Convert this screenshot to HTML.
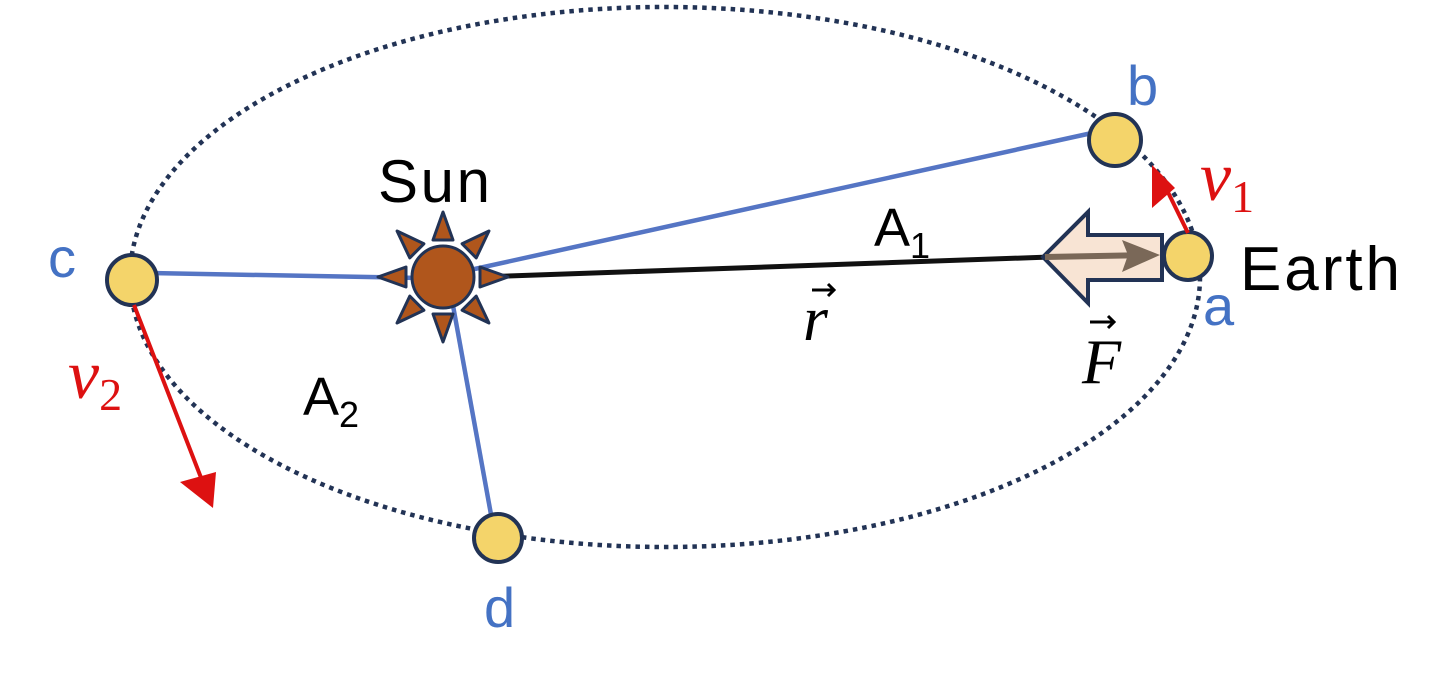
<!DOCTYPE html>
<html><head><style>
body{margin:0;background:#fff;width:1450px;height:695px;overflow:hidden}
</style></head><body>
<svg width="1450" height="695" viewBox="0 0 1450 695" xmlns="http://www.w3.org/2000/svg">
<ellipse cx="665" cy="277" rx="535" ry="270" fill="none" stroke="#223355" stroke-width="4.5" stroke-dasharray="4.5 5"/>
<g stroke="#5575c4" stroke-width="4.5">
<line x1="470" y1="270" x2="1092" y2="133"/>
<line x1="150" y1="273" x2="420" y2="278"/>
<line x1="452" y1="300" x2="492" y2="520"/>
</g>
<line x1="480" y1="277" x2="1050" y2="257" stroke="#111" stroke-width="5"/>
<g fill="#b0561c" stroke="#223355" stroke-width="3" stroke-linejoin="round">
<g id="ray"><polygon points="443,212 433,240 453,240"/></g>
<use href="#ray" transform="rotate(45 443 277)"/>
<use href="#ray" transform="rotate(90 443 277)"/>
<use href="#ray" transform="rotate(135 443 277)"/>
<use href="#ray" transform="rotate(180 443 277)"/>
<use href="#ray" transform="rotate(225 443 277)"/>
<use href="#ray" transform="rotate(270 443 277)"/>
<use href="#ray" transform="rotate(315 443 277)"/>
<circle cx="443" cy="277" r="31"/>
</g>
<polygon points="1043,257 1088,212 1088,235 1162,235 1162,280 1088,280 1088,303" fill="#f8e4d4" stroke="#223355" stroke-width="4"/>
<line x1="1045" y1="257" x2="1150" y2="255" stroke="#7a6858" stroke-width="6"/>
<polygon points="1160,255 1122,240 1128,255 1122,272" fill="#7a6858"/>
<g fill="#f4d46a" stroke="#223355" stroke-width="4">
<circle cx="1115" cy="140" r="26"/>
<circle cx="1188" cy="256" r="24"/>
<circle cx="132" cy="280" r="25"/>
<circle cx="498" cy="538" r="24"/>
</g>
<line x1="1188" y1="233" x2="1162" y2="180" stroke="#dd1111" stroke-width="4"/>
<polygon points="1152,165 1152,208 1175,188" fill="#dd1111"/>
<line x1="134" y1="305" x2="205" y2="488" stroke="#dd1111" stroke-width="4"/>
<polygon points="213,508 180,482 216,472" fill="#dd1111"/>
<g font-family="Liberation Sans, sans-serif">
<text x="378" y="202" font-size="60" fill="#000" textLength="112">Sun</text>
<text x="1240" y="290" font-size="62" fill="#000" textLength="160">Earth</text>
<text x="1127" y="105" font-size="56" fill="#4472c4">b</text>
<text x="48" y="277" font-size="56" fill="#4472c4">c</text>
<text x="1203" y="325" font-size="56" fill="#4472c4">a</text>
<text x="484" y="627" font-size="56" fill="#4472c4">d</text>
<text x="874" y="246" font-size="54" fill="#000">A<tspan font-size="36" dy="12">1</tspan></text>
<text x="303" y="415" font-size="54" fill="#000">A<tspan font-size="36" dy="12">2</tspan></text>
</g>
<g font-family="Liberation Serif, serif" font-style="italic">
<text x="803" y="340" font-size="64" fill="#000">r</text>
<path d="M812 290 L834 290 M828 284 L834 290 L828 296" stroke="#000" stroke-width="3" fill="none"/>
<text x="1082" y="383" font-size="64" fill="#000">F</text>
<path d="M1090 322 L1114 322 M1108 316 L1114 322 L1108 328" stroke="#000" stroke-width="3" fill="none"/>
<text x="1200" y="200" font-size="70" fill="#dd1111">v<tspan font-style="normal" font-size="46" dy="12">1</tspan></text>
<text x="68" y="398" font-size="70" fill="#dd1111">v<tspan font-style="normal" font-size="46" dy="12">2</tspan></text>
</g>
</svg>
</body></html>
